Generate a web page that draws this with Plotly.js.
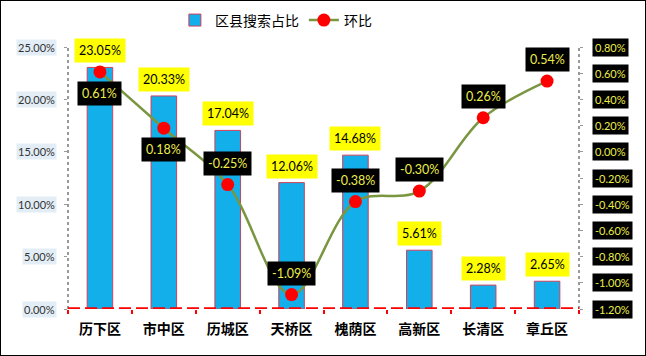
<!DOCTYPE html>
<html>
<head>
<meta charset="utf-8">
<script src="https://cdn.plot.ly/plotly-3.0.1.min.js"></script>
<style>
html,body{margin:0;padding:0;background:#fff;}
#wrap{width:646px;height:356px;box-sizing:border-box;border:1px solid #000;}
#chart{width:644px;height:354px;}
</style>
</head>
<body>
<div id="wrap"><div id="chart"></div></div>
<script>
// ---- data ----
const categories = ['历下区','市中区','历城区','天桥区','槐荫区','高新区','长清区','章丘区'];
const shareValues = [23.05, 20.33, 17.04, 12.06, 14.68, 5.61, 2.28, 2.65];   // 区县搜索占比 (%)
const ringValues  = [0.61, 0.18, -0.25, -1.09, -0.38, -0.30, 0.26, 0.54];    // 环比 (%)
const leftTicks   = [0, 5, 10, 15, 20, 25];
const rightTicks  = [0.8, 0.6, 0.4, 0.2, 0, -0.2, -0.4, -0.6, -0.8, -1.0, -1.2];
const ringLabelPos = ['below','below','above','above','above','above','above','above'];

const numFont = 'Lato, "Noto Sans CJK SC", sans-serif';
const cjkFont = '"Noto Sans CJK SC", sans-serif';

const barTrace = {
  type: 'bar', name: '区县搜索占比',
  x: categories, y: shareValues,
  width: 0.4,
  marker: {color: '#12AFEB', line: {color: '#D0405A', width: 1}},
  yaxis: 'y', hoverinfo: 'skip'
};
const lineTrace = {
  type: 'scatter', mode: 'lines+markers', name: '环比',
  x: categories, y: ringValues,
  line: {color: '#7A9640', width: 2.5, shape: 'spline', smoothing: 1},
  marker: {color: '#FF0000', size: 13},
  yaxis: 'y2', hoverinfo: 'skip'
};

const annotations = [];
// left tick labels with light background
leftTicks.forEach(v => annotations.push({
  xref: 'paper', yref: 'y', x: 0, y: v, xanchor: 'right', yanchor: 'middle',
  xshift: -11, text: v.toFixed(2) + '%', showarrow: false,
  bgcolor: '#E2EDF5', borderpad: 1,
  font: {family: numFont, size: 11, color: '#333'}
}));
// right tick labels, black background, yellow text
rightTicks.forEach(v => annotations.push({
  xref: 'paper', yref: 'y2', x: 1, y: v, xanchor: 'left', yanchor: 'middle',
  xshift: 13, text: (Math.abs(v) < 1e-9 ? 0 : v).toFixed(2) + '%', showarrow: false,
  bgcolor: '#000', borderpad: 2,
  font: {family: numFont, size: 11, color: '#EDED4A'}
}));
// bar value labels
categories.forEach((c, i) => annotations.push({
  xref: 'x', yref: 'y', x: c, y: shareValues[i], xanchor: 'center', yanchor: 'bottom',
  yshift: 4, text: shareValues[i].toFixed(2) + '%', showarrow: false,
  bgcolor: '#FFFF00', borderpad: 4,
  font: {family: numFont, size: 12.5, color: '#000'}
}));
// ring value labels
categories.forEach((c, i) => {
  const above = ringLabelPos[i] === 'above';
  annotations.push({
    xref: 'x', yref: 'y2', x: c, y: ringValues[i], xanchor: 'center',
    yanchor: above ? 'bottom' : 'top', yshift: above ? 9 : -9,
    text: ringValues[i].toFixed(2) + '%', showarrow: false,
    bgcolor: '#000', borderpad: 4,
    font: {family: numFont, size: 12.5, color: '#EDED4A'}
  });
});

const shapes = [
  // left axis dotted line
  {type: 'line', xref: 'paper', yref: 'paper', x0: 0, x1: 0, y0: 0, y1: 1,
   line: {color: '#999', width: 2, dash: 'dot'}, layer: 'below'},
  // right axis dotted line
  {type: 'line', xref: 'paper', yref: 'paper', x0: 1, x1: 1, y0: 0, y1: 1,
   line: {color: '#999', width: 2, dash: 'dot'}, layer: 'below'},
  // bottom axis dashed red line
  {type: 'line', xref: 'paper', yref: 'y', x0: 0, x1: 1, y0: 0, y1: 0,
   line: {color: '#FF0000', width: 3.5, dash: '12px,5px'}, layer: 'above'}
];

const layout = {
  width: 644, height: 354,
  margin: {l: 67, r: 66, t: 46, b: 46, autoexpand: false},
  paper_bgcolor: '#fff', plot_bgcolor: '#fff',
  showlegend: true,
  legend: {orientation: 'h', xref: 'container', yref: 'container',
           x: 0.27, xanchor: 'left', y: 0.945, yanchor: 'middle',
           font: {family: cjkFont, size: 14, color: '#000'}, traceorder: 'normal',
           itemwidth: 30},
  xaxis: {
    type: 'category', range: [-0.5, 7.5], showgrid: false, zeroline: false, showline: false,
    ticks: 'outside', tickson: 'boundaries', ticklen: 4, tickcolor: '#FF0000', tickwidth: 2,
    tickfont: {family: cjkFont, size: 14, color: '#000', weight: 'bold'},
    ticklabelstandoff: 10
  },
  yaxis: {
    range: [0, 25], tickvals: leftTicks, showticklabels: false, showgrid: false,
    zeroline: false, showline: false, ticks: 'outside', ticklen: 3, tickcolor: '#999'
  },
  yaxis2: {
    overlaying: 'y', side: 'right', range: [-1.2, 0.8], tickvals: rightTicks,
    showticklabels: false, showgrid: false, zeroline: false, showline: false,
    ticks: 'outside', ticklen: 3, tickcolor: '#999'
  },
  annotations: annotations,
  shapes: shapes,
  font: {family: numFont}
};

Plotly.newPlot('chart', [barTrace, lineTrace], layout, {displayModeBar: false, staticPlot: true});
</script>
</body>
</html>
